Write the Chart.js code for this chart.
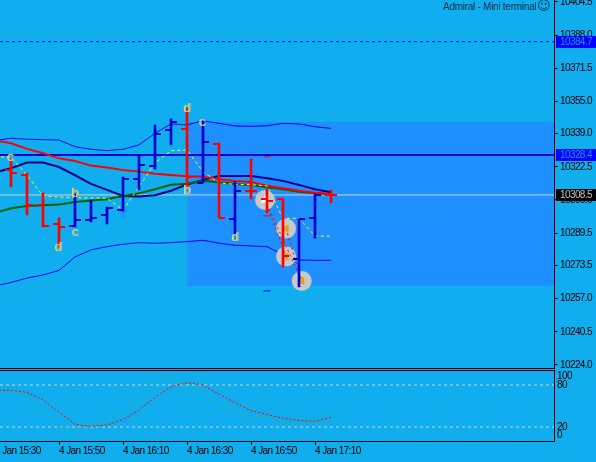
<!DOCTYPE html>
<html>
<head>
<meta charset="utf-8">
<title>Admiral - Mini terminal</title>
<script src="https://cdn.jsdelivr.net/npm/chart.js@4"></script>
<style>
    html, body { margin: 0; padding: 0; width: 596px; height: 462px; overflow: hidden; background: #10aeee; }
    canvas { position: absolute; left: 0; display: block; }
    #priceChart { top: 0; }
    #oscChart { top: 370px; }
</style>
</head>
<body>
<canvas id="priceChart" width="596" height="369"></canvas>
<canvas id="oscChart" width="596" height="92"></canvas>
<script>
// Bars, 5 minutes each. Index 0 is 15:25
const barIndex = [0, 1, 2, 3, 4, 5, 6, 7, 8, 9, 10, 11, 12, 13, 14, 15, 16, 17, 18, 19, 20];
const opens  = [10320.9, 10318.4, 10303.5, 10294.1, 10293.1, 10296.1, 10298.6, 10301.0, 10316.4, 10322.9, 10340.8, 10341.3, 10314.5, 10333.8, 10296.6, 10310.5, 10306.5, 10306.5, 10276.7, 10297.1, 10308.5];
const highs  = [10326.4, 10319.4, 10309.5, 10297.1, 10309.0, 10306.0, 10302.5, 10317.4, 10328.4, 10343.3, 10346.3, 10351.7, 10345.8, 10334.3, 10315.0, 10326.4, 10311.5, 10306.5, 10296.6, 10309.0, 10311.0];
const lows   = [10312.5, 10298.6, 10292.6, 10282.7, 10292.6, 10295.1, 10294.1, 10300.5, 10311.0, 10321.4, 10333.4, 10312.5, 10314.5, 10297.1, 10289.1, 10306.5, 10299.6, 10272.7, 10262.8, 10287.1, 10304.5];
const closes = [10319.4, 10303.5, 10293.1, 10292.6, 10296.1, 10297.1, 10302.0, 10316.4, 10323.4, 10338.8, 10344.8, 10317.4, 10334.8, 10297.1, 10310.5, 10310.5, 10305.5, 10278.2, 10296.6, 10308.5, 10308.5];

// Indicator lines start one bar earlier, off the left edge
const lineIndex = [-1, 0, 1, 2, 3, 4, 5, 6, 7, 8, 9, 10, 11, 12, 13, 14, 15, 16, 17, 18, 19, 20];
const upperBand = [10335.5, 10336.7, 10336.2, 10336.0, 10335.8, 10332.5, 10331.2, 10330.5, 10331.2, 10333.4, 10339.2, 10343.8, 10343.3, 10345.4, 10344.1, 10342.8, 10342.6, 10342.9, 10344.1, 10343.8, 10342.4, 10341.6];
const lowerBand = [10263.3, 10265.0, 10267.2, 10268.7, 10271.0, 10277.7, 10281.2, 10282.8, 10284.0, 10284.8, 10284.5, 10284.8, 10285.3, 10286.0, 10284.5, 10283.5, 10283.2, 10282.8, 10278.9, 10276.2, 10276.0, 10276.0];
const redMa   = [10335.6, 10334.2, 10331.4, 10329.2, 10326.7, 10325.4, 10323.1, 10322.1, 10320.9, 10320.1, 10319.1, 10318.4, 10317.8, 10317.6, 10316.3, 10315.5, 10315.0, 10313.1, 10311.8, 10310.6, 10309.6, 10308.8];
const navyMa  = [10319.7, 10321.8, 10324.6, 10324.6, 10322.4, 10318.3, 10314.0, 10311.0, 10308.0, 10307.7, 10308.4, 10310.6, 10313.7, 10316.0, 10317.9, 10317.9, 10317.9, 10316.8, 10315.5, 10313.5, 10311.3, 10309.8];
const greenMa = [10299.6, 10301.9, 10303.0, 10303.4, 10303.7, 10305.0, 10305.7, 10306.4, 10308.0, 10309.3, 10311.3, 10313.6, 10314.1, 10315.5, 10314.8, 10314.0, 10313.5, 10312.3, 10311.3, 10310.1, 10309.3, 10308.8];
const yellowLine = [10327.4, 10327.4, 10318.4, 10308.0, 10307.5, 10307.2, 10307.0, 10306.9, 10301.0, 10312.6, 10324.4, 10330.5, 10330.9, 10320.1, 10314.5, 10313.8, 10313.6, 10313.0, 10296.9, 10296.9, 10288.1, 10288.0];

// Oscillator
const oscMain   = [72.4, 72.4, 65.7, 41.9, 20.0, 17.0, 22.9, 30.0, 41.9, 57.0, 81.4, 92.9, 77.6, 71.9, 49.0, 45.2, 31.4, 37.1, 25.2, 28.6, 30.0, 45.2];
const oscSignal = [72.4, 72.4, 69.5, 58.6, 41.0, 23.8, 21.0, 22.9, 30.5, 44.3, 62.4, 77.6, 83.3, 80.0, 66.7, 54.8, 43.3, 38.0, 32.4, 29.5, 28.0, 33.8];
const oscLevels = [20, 80];

// Trade marks
const tradeIndex = [15.875, 17.19, 17.19, 18.17];
const tradePrice = [10306.0, 10291.8, 10278.0, 10265.8];
const tradeLinks = [[0, 2], [0, 3], [1, 3]];
const dashIndex = [16, 16, 16];
const dashPrice = [10327.4, 10298.1, 10260.8];
const dashColor = ['#ff0000', '#ff0000', '#0000ff'];
const arrowIndex = [7];
const arrowPrice = [10300.0];

// Wave letters
const waveText  = ['c', 'd', 'b', 'c', 'd', 'b', 'c', 'd'];
const waveIndex = [0.0, 3.0, 4.06, 4.06, 11.06, 11.06, 12.0, 14.05];
const wavePrice = [10327.0, 10282.5, 10309.5, 10289.7, 10351.5, 10311.0, 10344.5, 10287.5];

// Levels and shaded box
const askLevel = 10384.7;
const highLevel = 10328.4;
const bidLevel = 10308.5;
const boxStart = 11;
const boxTop = 10344.8;
const boxBottom = 10263.3;

// Axis labels
const priceTicks = [10404.5, 10388.0, 10371.5, 10355.0, 10339.0, 10322.5, 10306.0, 10289.5, 10273.5, 10257.0, 10240.5, 10224.0];
const timeTickIndex = [-1, 3, 7, 11, 15, 19];
const timeTicks = ['4 Jan 15:30', '4 Jan 15:50', '4 Jan 16:10', '4 Jan 16:30', '4 Jan 16:50', '4 Jan 17:10'];
const oscTickLabels = ['100', '80', '20', '0'];
const oscTickPlaces = [92, 80, 20, 8];

const X_MIN = -0.6875;
const X_MAX = 33.9375;
const AXIS_FONT = { family: '"Liberation Sans", sans-serif', size: 10 };

function pairs(xs, ys) {
    return xs.map((x, i) => ({ x: x, y: ys[i] }));
}

function flatLine(value) {
    return [{ x: X_MIN, y: value }, { x: X_MAX, y: value }];
}

function lineSet(data, color, width, order, dash) {
    return {
        type: 'line',
        data: data,
        borderColor: color,
        borderWidth: width,
        borderDash: dash || [],
        pointRadius: 0,
        tension: 0,
        fill: false,
        order: order
    };
}

function makeArrow() {
    const c = document.createElement('canvas');
    c.width = 11;
    c.height = 12;
    const g = c.getContext('2d');
    g.fillStyle = '#1e90ff';
    g.beginPath();
    g.moveTo(5.5, 0);
    g.lineTo(11, 6);
    g.lineTo(7.5, 5.5);
    g.lineTo(7.5, 12);
    g.lineTo(3.5, 12);
    g.lineTo(3.5, 5.5);
    g.lineTo(0, 6);
    g.closePath();
    g.fill();
    return c;
}

// The system font here is narrower than anything installed, so tighten it
function tightText(spacing) {
    return {
        id: 'tightText',
        beforeDraw(chart) {
            chart.ctx.letterSpacing = spacing;
        }
    };
}

// The shaded box goes under everything
const boxPlugin = {
    id: 'box',
    beforeDatasetsDraw(chart) {
        const { ctx, chartArea, scales } = chart;
        const left = scales.x.getPixelForValue(boxStart);
        const top = scales.y.getPixelForValue(boxTop);
        const bottom = scales.y.getPixelForValue(boxBottom);
        ctx.save();
        ctx.fillStyle = '#1e90ff';
        ctx.fillRect(left, top, chartArea.right - left, bottom - top);
        ctx.restore();
    }
};

// Open and close ticks of each bar, letters, price tags and the caption
const overlayPlugin = {
    id: 'overlay',
    afterDatasetsDraw(chart) {
        const { ctx, scales } = chart;
        ctx.save();
        barIndex.forEach((idx, i) => {
            const x = Math.round(scales.x.getPixelForValue(idx));
            ctx.fillStyle = closes[i] > opens[i] ? '#0000cd' : '#ff0000';
            ctx.fillRect(x - 6, Math.round(scales.y.getPixelForValue(opens[i])) - 1, 6, 2);
            ctx.fillRect(x, Math.round(scales.y.getPixelForValue(closes[i])) - 1, 6, 2);
        });
        ctx.letterSpacing = '0px';
        ctx.font = '13px "Liberation Sans", sans-serif';
        ctx.textAlign = 'center';
        ctx.textBaseline = 'middle';
        waveText.forEach((t, i) => {
            const x = scales.x.getPixelForValue(waveIndex[i]);
            const y = scales.y.getPixelForValue(wavePrice[i]);
            ctx.fillStyle = '#e6e64a';
            ctx.fillText(t, x - 1, y);
            ctx.fillStyle = '#b9b9a0';
            ctx.fillText(t, x, y);
        });
        ctx.restore();
    },
    afterDraw(chart) {
        const { ctx, chartArea, scales } = chart;
        ctx.save();
        ctx.fillStyle = '#000';
        ctx.fillRect(0, chartArea.bottom, chartArea.right + 1, 1);
        ctx.font = '10px ' + AXIS_FONT.family;
        ctx.textBaseline = 'middle';
        ctx.textAlign = 'left';
        [[askLevel, '#0000ff', '#1e90ff'], [highLevel, '#0000ff', '#1e90ff'], [bidLevel, '#000000', '#c0c0c0']].forEach(tag => {
            const y = Math.round(scales.y.getPixelForValue(tag[0]));
            ctx.fillStyle = tag[1];
            ctx.fillRect(556, y - 6, 40, 12);
            ctx.fillStyle = tag[2];
            ctx.fillText(tag[0].toFixed(1), 560, y);
        });
        ctx.fillStyle = '#00304a';
        ctx.letterSpacing = '-0.27px';
        ctx.textAlign = 'left';
        ctx.fillText('Admiral - Mini terminal', 443, 7);
        ctx.letterSpacing = '0px';
        ctx.font = '13px "DejaVu Sans", sans-serif';
        ctx.fillText('\u263A', 537, 7);
        ctx.restore();
    }
};

const priceData = {
    datasets: [
        // high-low stems
        {
            type: 'bar',
            data: barIndex.map((x, i) => ({ x: x, y: [lows[i], highs[i]] })),
            backgroundColor: barIndex.map((x, i) => closes[i] > opens[i] ? '#0000cd' : '#ff0000'),
            barThickness: 2,
            order: 1
        },
        {
            type: 'scatter',
            data: pairs(arrowIndex, arrowPrice),
            pointStyle: makeArrow(),
            order: 2
        },
        {
            type: 'scatter',
            data: pairs(dashIndex, dashPrice),
            pointStyle: 'line',
            pointRadius: 3.5,
            pointBorderWidth: 1,
            pointBorderColor: dashColor,
            order: 2
        },
        {
            type: 'scatter',
            data: pairs(tradeIndex.slice(1), tradePrice.slice(1)),
            pointStyle: 'triangle',
            rotation: -90,
            pointRadius: 5,
            pointBackgroundColor: '#daa520',
            pointBorderWidth: 0,
            order: 3
        },
        {
            type: 'scatter',
            data: pairs(tradeIndex.slice(0, 1), tradePrice.slice(0, 1)),
            pointStyle: 'triangle',
            pointRadius: 5,
            pointBackgroundColor: '#ffffff',
            pointBorderWidth: 0,
            order: 3
        },
        {
            type: 'scatter',
            data: pairs(tradeIndex, tradePrice),
            pointRadius: 10,
            pointBackgroundColor: '#c8c8c8',
            pointBorderWidth: 0,
            order: 4
        },
        lineSet(pairs(lineIndex, yellowLine), '#ffff00', 1, 5, [3, 3]),
        lineSet(pairs(lineIndex, redMa), '#ff0000', 2, 6),
        lineSet(pairs(lineIndex, greenMa), '#006400', 2, 7),
        lineSet(pairs(lineIndex, navyMa), '#00008b', 2, 8),
        lineSet(pairs(lineIndex, upperBand), '#0000ff', 1, 9),
        lineSet(pairs(lineIndex, lowerBand), '#0000ff', 1, 9),
        lineSet(flatLine(highLevel), '#0000e0', 2, 10),
        lineSet(flatLine(bidLevel), '#d3d3d3', 1, 11),
        lineSet(flatLine(askLevel), '#0000e0', 1, 11, [3, 3])
    ]
};

tradeLinks.forEach(link => {
    const a = link[0], b = link[1];
    priceData.datasets.push(lineSet(
        [{ x: tradeIndex[a], y: tradePrice[a] }, { x: tradeIndex[b], y: tradePrice[b] }],
        '#ff0000', 1, 3.5, [2, 3]
    ));
});

new Chart(document.getElementById('priceChart'), {
    type: 'bar',
    data: priceData,
    plugins: [tightText('-0.6px'), boxPlugin, overlayPlugin],
    options: {
        responsive: false,
        animation: false,
        devicePixelRatio: 1,
        layout: { autoPadding: false, padding: { left: 0, right: 0, top: 0, bottom: 1 } },
        plugins: { legend: { display: false }, tooltip: { enabled: false } },
        scales: {
            x: {
                type: 'linear',
                min: X_MIN,
                max: X_MAX,
                offset: false,
                display: false,
                grid: { offset: false }
            },
            y: {
                type: 'linear',
                position: 'right',
                min: 10222.5,
                max: 10405.4,
                beginAtZero: false,
                afterFit(scale) {
                    scale.width = 42;
                    scale.paddingTop = 0;
                    scale.paddingBottom = 0;
                },
                afterBuildTicks(scale) {
                    scale.ticks = priceTicks.map(v => ({ value: v }));
                },
                border: { color: '#000', width: 1 },
                grid: { drawOnChartArea: false, tickLength: 4, tickColor: '#000' },
                ticks: {
                    color: '#000',
                    font: AXIS_FONT,
                    padding: 2,
                    autoSkip: false,
                    callback: v => v.toFixed(1)
                }
            }
        }
    }
});

new Chart(document.getElementById('oscChart'), {
    type: 'line',
    data: {
        datasets: [
            lineSet(pairs(lineIndex, oscSignal), '#ff0000', 1, 1, [2, 2]),
            lineSet(pairs(lineIndex, oscMain), '#20b2aa', 1, 2),
            lineSet(flatLine(oscLevels[0]), '#d3d3d3', 1, 3, [3, 3]),
            lineSet(flatLine(oscLevels[1]), '#d3d3d3', 1, 3, [3, 3])
        ]
    },
    plugins: [tightText('-0.6px'), {
        id: 'topLine',
        afterDraw(chart) {
            chart.ctx.fillStyle = '#000';
            chart.ctx.fillRect(0, 0, chart.chartArea.right + 1, 1);
        }
    }],
    options: {
        responsive: false,
        animation: false,
        devicePixelRatio: 1,
        layout: { autoPadding: false, padding: { left: 0, right: 0, top: 1, bottom: 0 } },
        plugins: { legend: { display: false }, tooltip: { enabled: false } },
        scales: {
            x: {
                type: 'linear',
                min: X_MIN,
                max: X_MAX,
                afterBuildTicks(scale) {
                    scale.ticks = timeTickIndex.map(v => ({ value: v }));
                },
                afterFit(scale) {
                    scale.height = 21;
                    scale.paddingLeft = 0;
                    scale.paddingRight = 0;
                },
                border: { color: '#000', width: 1 },
                grid: { drawOnChartArea: false, tickLength: 4, tickColor: '#000' },
                ticks: {
                    color: '#000',
                    font: AXIS_FONT,
                    align: 'start',
                    padding: 0,
                    maxRotation: 0,
                    autoSkip: false,
                    callback: (v, i) => timeTicks[i]
                }
            },
            y: {
                type: 'linear',
                position: 'right',
                min: 0,
                max: 100,
                afterFit(scale) {
                    scale.width = 42;
                    scale.paddingTop = 0;
                    scale.paddingBottom = 0;
                },
                afterBuildTicks(scale) {
                    scale.ticks = oscTickPlaces.map(v => ({ value: v }));
                },
                border: { color: '#000', width: 1 },
                grid: { drawOnChartArea: false, tickLength: 0, tickColor: '#000' },
                ticks: {
                    color: '#000',
                    font: AXIS_FONT,
                    padding: 3,
                    autoSkip: false,
                    callback: (v, i) => oscTickLabels[i]
                }
            }
        }
    }
});
</script>
</body>
</html>
